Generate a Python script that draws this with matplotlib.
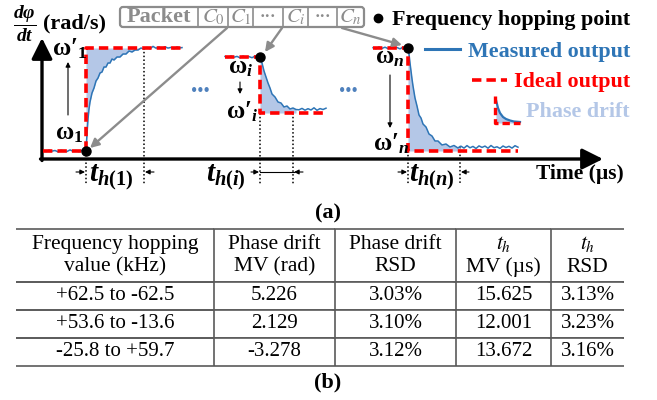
import matplotlib
matplotlib.use('Agg')
import matplotlib.pyplot as plt
from matplotlib.patches import FancyBboxPatch

plt.rcParams['font.family'] = ['Liberation Serif', 'DejaVu Serif']
plt.rcParams['mathtext.fontset'] = 'custom'
plt.rcParams['mathtext.rm'] = 'Liberation Serif:bold'
plt.rcParams['mathtext.bf'] = 'Liberation Serif:bold'
plt.rcParams['mathtext.it'] = 'Liberation Serif:bold:italic'

BLUE = '#2e75b6'
RED = '#ff0000'
SHADE = '#b4c7e7'
GRAY = '#8c8c8c'

# ---- diagram data (schematic units, origin at the axis corner) ----
# hop 1 : w1 -> w1'
s1_pre_t = [1, 4, 7, 10, 13, 16, 19, 22, 25, 28, 31, 34, 37, 40, 43]
s1_pre_w = [8.6, 7.4, 8.9, 7.9, 8.5, 7.2, 8.8, 8.0, 7.5, 9.1, 7.8, 8.4, 7.3, 8.7, 8.2]
s1_tr_t = [44, 45, 46, 47, 48, 50, 52, 54, 56, 58, 60, 62, 64, 66, 68, 70, 72, 75,
           78, 81, 84, 87, 90, 93, 96, 99, 102]
s1_tr_w = [8, 25, 40, 50, 57, 66, 71, 78, 81, 86, 87, 92, 92, 96, 96, 100, 99, 102,
           102, 105, 105, 108, 107, 109, 109, 111, 110]
s1_post_t = [105, 108, 111, 114, 117, 120, 123, 126, 129, 132, 135, 138, 140]
s1_post_w = [111.5, 110.2, 112.6, 110.8, 111.9, 110.5, 112.2, 110.9, 111.6, 110.3, 112.0, 111.1, 111.4]
ideal1_t = [1, 44, 44, 140]
ideal1_w = [8, 8, 111, 111]

# hop i : wi -> wi'
si_pre_t = [183, 186, 189, 192, 195, 198, 201, 204, 207, 210, 213, 216, 218]
si_pre_w = [102.5, 101.4, 103.0, 101.8, 102.6, 101.2, 102.9, 101.6, 102.4, 101.3, 102.8, 101.9, 102.2]
si_tr_t = [218, 219, 220, 221, 222, 224, 226, 228, 230, 233, 236, 239, 242, 245, 248, 251, 254]
si_tr_w = [102, 100, 96, 92, 88, 82, 76, 71, 65, 62, 57, 56, 52, 53, 50, 51, 49.5]
si_post_t = [257, 260, 263, 266, 269, 272, 275, 278, 281, 284]
si_post_w = [49.2, 50.6, 48.8, 50.3, 49.0, 51.2, 48.7, 50.4, 49.5, 50.8]
ideali_t = [183, 218, 218, 285]
ideali_w = [102, 102, 46, 46]

# hop n : wn -> wn'
sn_pre_t = [331, 334, 337, 340, 343, 346, 349, 352, 355, 358, 361, 364, 366]
sn_pre_w = [111.3, 110.2, 112.1, 110.6, 111.8, 110.4, 112.3, 110.9, 111.5, 110.1, 111.9, 110.7, 111.2]
sn_tr_t = [366, 367, 368, 369, 370, 371, 373, 375, 377, 379, 381, 384, 387, 390, 393,
           396, 400, 404, 408, 412, 416, 418]
sn_tr_w = [111, 105, 96, 88, 80, 73, 61, 53, 44, 41, 35, 32, 25, 23, 18, 18, 14, 15, 12, 13.5, 11, 12.5]
sn_post_t = [419, 422, 425, 428, 431, 434, 437, 440, 443, 446, 449, 452, 455, 458, 461,
             464, 467, 470, 473, 476]
sn_post_w = [12.8, 10.9, 13.4, 11.2, 12.6, 10.5, 13.1, 11.6, 12.9, 10.8, 13.5, 11.3, 12.2,
             10.6, 13.0, 11.5, 12.7, 10.9, 13.3, 11.8]
idealn_t = [331, 366, 366, 476]
idealn_w = [111, 111, 8, 8]

hop_t = [44, 218, 366]
hop_w = [8, 102, 111]
settle_t = [102, 251, 418]

# legend icon for phase drift
icon_t = [454, 456, 458, 461, 464, 468, 472, 478]
icon_w = [59, 51, 46, 42, 40, 38.5, 37.5, 37]
icon_ideal_t = [453, 453, 478]
icon_ideal_w = [63, 36, 36]

# packet fields
fields = ['Packet', '$C_0$', '$C_1$', '···', '$C_i$', '···', '$C_n$']
field_edges = [78, 156, 186, 211, 241, 266, 295, 322]

# ---- table data ----
hop_vals = ['+62.5 to -62.5', '+53.6 to -13.6', '-25.8 to +59.7']
pd_mv = [5.226, 2.129, -3.278]
pd_rsd = [3.03, 3.10, 3.12]
th_mv = [15.625, 12.001, 13.672]
th_rsd = [3.13, 3.23, 3.16]
col_labels = ['Frequency hopping\nvalue (kHz)', 'Phase drift\nMV (rad)',
              'Phase drift\nRSD', '$t_h$\nMV (µs)', '$t_h$\nRSD']

fig = plt.figure(figsize=(6.57, 4.0), dpi=100)
ax = fig.add_axes([0, 0, 1, 1])
ax.set_xlim(-42, 615)
ax.set_ylim(-241, 159)
ax.axis('off')

# axes arrows
ax.annotate('', xy=(0, 121), xytext=(0, -1.5),
            arrowprops=dict(arrowstyle='-|>,head_length=0.7,head_width=0.35', lw=2.4,
                            color='k', shrinkA=0, shrinkB=0, mutation_scale=18))
ax.annotate('', xy=(561, 0), xytext=(-1.5, 0),
            arrowprops=dict(arrowstyle='-|>,head_length=0.7,head_width=0.35', lw=2.4,
                            color='k', shrinkA=0, shrinkB=0, mutation_scale=18))

# dotted guides
for t0, w0 in zip(hop_t, [8, 46, 8]):
    ax.plot([t0, t0], [w0, -26], ls=(0, (1, 1.5)), color='k', lw=1.1, zorder=1)
for t0, w0 in zip(settle_t, [111, 46, 12]):
    ax.plot([t0, t0], [w0, -26], ls=(0, (1, 1.5)), color='k', lw=1.1, zorder=1)

# shaded phase drift
ax.fill_between(s1_tr_t, s1_tr_w, ideal1_w[-1], color=SHADE, lw=0, zorder=1)
ax.fill_between(si_tr_t, si_tr_w, ideali_w[-1], color=SHADE, lw=0, zorder=1)
ax.fill_between(sn_tr_t, sn_tr_w, idealn_w[-1], color=SHADE, lw=0, zorder=1)

# measured output
for pre_t, pre_w, tr_t, tr_w, po_t, po_w in [
        (s1_pre_t, s1_pre_w, s1_tr_t, s1_tr_w, s1_post_t, s1_post_w),
        (si_pre_t, si_pre_w, si_tr_t, si_tr_w, si_post_t, si_post_w),
        (sn_pre_t, sn_pre_w, sn_tr_t, sn_tr_w, sn_post_t, sn_post_w)]:
    ax.plot(pre_t + tr_t + po_t, pre_w + tr_w + po_w, color=BLUE, lw=1.1, zorder=2)

# ideal output
for it, iw in [(ideal1_t, ideal1_w), (ideali_t, ideali_w), (idealn_t, idealn_w)]:
    ax.plot(it, iw, color=RED, lw=2.6, dashes=(2.6, 1.4), zorder=3)

ax.plot(hop_t, hop_w, 'o', color='k', ms=6.5, zorder=5)

# omega labels
FS = 18
omega_labels = [(10, 104, '1', True), (13, 20, '1', False),
                (186, 86, 'i', False), (184, 41, 'i', True),
                (333, 96, 'n', False), (331, 9, 'n', True)]
for x0, y0, sub, primed in omega_labels:
    base = 'ω′' if primed else 'ω'
    ax.text(x0, y0, r"$\mathbf{%s}_{%s}$" % (base, sub), ha='left', va='baseline', fontsize=FS)

thin = dict(arrowstyle='-|>', lw=0.8, color='k', mutation_scale=7, shrinkA=0, shrinkB=0)
ax.annotate('', xy=(26, 97), xytext=(26, 44), arrowprops=thin)
ax.annotate('', xy=(198, 65), xytext=(198, 77), arrowprops=thin)
ax.annotate('', xy=(348, 31), xytext=(348, 84), arrowprops=thin)

# continuation dots
ax.text(158, 68, '•••', color='#4f81bd', ha='center', va='center', fontsize=13)
ax.text(306, 68, '•••', color='#4f81bd', ha='center', va='center', fontsize=13)

# t_h markers
ax.annotate('', xy=(43, -13), xytext=(34, -13), arrowprops=thin)
ax.annotate('', xy=(103, -13), xytext=(112, -13), arrowprops=thin)
ax.annotate('', xy=(217, -13), xytext=(209, -13), arrowprops=thin)
ax.plot([218, 252], [-13, -13], color='k', lw=0.8)
ax.annotate('', xy=(252, -13), xytext=(261, -13), arrowprops=thin)
ax.annotate('', xy=(365, -13), xytext=(356, -13), arrowprops=thin)
ax.annotate('', xy=(419, -13), xytext=(427, -13), arrowprops=thin)
ax.text(69, -18, r"$t_{h(1)}$", ha='center', va='center', fontsize=21)
ax.text(184, -18, r"$t_{h(i)}$", ha='center', va='center', fontsize=21)
ax.text(390, -18, r"$t_{h(n)}$", ha='center', va='center', fontsize=21)

# axis titles
ax.text(-17, 135, r"$\dfrac{d\varphi}{dt}$", ha='center', va='center', fontsize=14)
ax.text(1, 131, '(rad/s)', ha='left', va='baseline', fontsize=16, fontweight='bold')
ax.text(494, -20, 'Time (µs)', ha='left', va='baseline', fontsize=15.5, fontweight='bold')

# packet box
box = FancyBboxPatch((field_edges[0], 132), field_edges[-1] - field_edges[0], 20,
                     boxstyle='round,pad=0,rounding_size=3', fc='white', ec=GRAY, lw=1.6)
ax.add_patch(box)
for e in field_edges[1:-1]:
    ax.plot([e, e], [132, 152], color=GRAY, lw=1.2)
for k, lab in enumerate(fields):
    xc = (field_edges[k] + field_edges[k + 1]) / 2
    if lab.startswith('$'):
        t = ax.text(xc, 142, lab, ha='center', va='center', fontsize=15, color=GRAY)
        t.set_math_fontfamily('stix')
    elif lab == 'Packet':
        ax.text(xc, 142, lab, ha='center', va='center', fontsize=16, color=GRAY, fontweight='bold')
    else:
        ax.text(xc, 142, lab, ha='center', va='center', fontsize=12, color=GRAY, fontweight='bold')

# pointer arrows from packet fields
garrow = dict(arrowstyle='-|>', lw=1.7, color=GRAY, mutation_scale=13, shrinkA=0, shrinkB=0)
ax.annotate('', xy=(48, 11), xytext=(185, 131), arrowprops=garrow)
ax.annotate('', xy=(223, 107), xytext=(240, 131), arrowprops=garrow)
ax.annotate('', xy=(360, 114), xytext=(300, 131), arrowprops=garrow)

# legend
ax.plot([336], [141], 'o', color='k', ms=6)
ax.text(588, 134, 'Frequency hopping point', ha='right', va='baseline', fontsize=15.8, fontweight='bold')
ax.plot([383, 418], [110, 110], color=BLUE, lw=2.2)
ax.text(588, 102, 'Measured output', ha='right', va='baseline', fontsize=15.8, fontweight='bold', color=BLUE)
ax.plot([430, 465], [79, 79], color=RED, lw=2.6, dashes=(2.6, 1.4))
ax.text(588, 72, 'Ideal output', ha='right', va='baseline', fontsize=15.8, fontweight='bold', color=RED)
ax.fill_between(icon_t, icon_w, 36, color=SHADE, lw=0)
ax.plot(icon_t, icon_w, color=BLUE, lw=1.6)
ax.plot(icon_ideal_t, icon_ideal_w, color=RED, lw=2.4, dashes=(2.2, 1.2))
ax.text(588, 42, 'Phase drift', ha='right', va='baseline', fontsize=15.8, fontweight='bold', color=SHADE)

fig.text(328 / 657, 1 - 213 / 400, '(a)', ha='center', va='center', fontsize=16, fontweight='bold')
fig.text(328 / 657, 1 - 382 / 400, '(b)', ha='center', va='center', fontsize=16, fontweight='bold')

# ---- table ----
tax = fig.add_axes([16 / 657, 34 / 400, 608 / 657, 137 / 400])
tax.axis('off')
rows = [[hop_vals[i], f'{pd_mv[i]:.3f}', f'{pd_rsd[i]:.2f}%', f'{th_mv[i]:.3f}', f'{th_rsd[i]:.2f}%']
        for i in range(len(hop_vals))]
col_w = [198, 121, 121, 95, 73]
tb = tax.table(cellText=rows, colLabels=col_labels, colWidths=[w / sum(col_w) for w in col_w],
               cellLoc='center', bbox=[0, 0, 1, 1])
tb.auto_set_font_size(False)
tb.set_fontsize(15)
for (r, c), cell in tb.get_celld().items():
    cell.visible_edges = 'TB' if c == 0 else 'TBL'
    cell.set_edgecolor('#5a5a5a')
    cell.set_linewidth(1.2)
    cell.set_height(53 if r == 0 else 28)
    txt = cell.get_text()
    txt.set_fontfamily('Liberation Serif')
    txt.set_fontweight('normal')
    txt.set_math_fontfamily('stix')
    txt.set_linespacing(1.25)
    if r == 0:
        txt.set_fontsize(15.5)

fig.savefig('out.png', dpi=100)
